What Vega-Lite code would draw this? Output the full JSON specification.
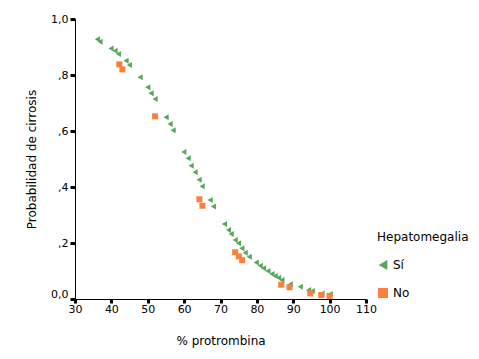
{
  "$schema": "https://vega.github.io/schema/vega-lite/v6.json",
  "width": 291,
  "height": 280,
  "autosize": {"type": "none"},
  "padding": {"left": 75, "top": 19, "right": 113, "bottom": 60},
  "background": "white",
  "config": {
    "view": {"stroke": null},
    "font": "DejaVu Sans"
  },
  "data": {
    "values": [
      {"protrombina": 36.14, "prob": 0.9275, "hepatomegalia": "Sí"},
      {"protrombina": 36.88, "prob": 0.919, "hepatomegalia": "Sí"},
      {"protrombina": 39.91, "prob": 0.895, "hepatomegalia": "Sí"},
      {"protrombina": 41.01, "prob": 0.887, "hepatomegalia": "Sí"},
      {"protrombina": 41.92, "prob": 0.875, "hepatomegalia": "Sí"},
      {"protrombina": 44.03, "prob": 0.851, "hepatomegalia": "Sí"},
      {"protrombina": 44.94, "prob": 0.836, "hepatomegalia": "Sí"},
      {"protrombina": 47.89, "prob": 0.792, "hepatomegalia": "Sí"},
      {"protrombina": 50.0, "prob": 0.756, "hepatomegalia": "Sí"},
      {"protrombina": 50.91, "prob": 0.735, "hepatomegalia": "Sí"},
      {"protrombina": 52.01, "prob": 0.714, "hepatomegalia": "Sí"},
      {"protrombina": 55.04, "prob": 0.649, "hepatomegalia": "Sí"},
      {"protrombina": 56.14, "prob": 0.625, "hepatomegalia": "Sí"},
      {"protrombina": 56.96, "prob": 0.6025, "hepatomegalia": "Sí"},
      {"protrombina": 59.91, "prob": 0.525, "hepatomegalia": "Sí"},
      {"protrombina": 61.1, "prob": 0.5025, "hepatomegalia": "Sí"},
      {"protrombina": 61.92, "prob": 0.476, "hepatomegalia": "Sí"},
      {"protrombina": 63.02, "prob": 0.4525, "hepatomegalia": "Sí"},
      {"protrombina": 64.12, "prob": 0.426, "hepatomegalia": "Sí"},
      {"protrombina": 64.95, "prob": 0.4025, "hepatomegalia": "Sí"},
      {"protrombina": 67.15, "prob": 0.354, "hepatomegalia": "Sí"},
      {"protrombina": 68.06, "prob": 0.33, "hepatomegalia": "Sí"},
      {"protrombina": 71.08, "prob": 0.268, "hepatomegalia": "Sí"},
      {"protrombina": 72.19, "prob": 0.246, "hepatomegalia": "Sí"},
      {"protrombina": 72.93, "prob": 0.232, "hepatomegalia": "Sí"},
      {"protrombina": 74.03, "prob": 0.211, "hepatomegalia": "Sí"},
      {"protrombina": 74.94, "prob": 0.199, "hepatomegalia": "Sí"},
      {"protrombina": 75.87, "prob": 0.181, "hepatomegalia": "Sí"},
      {"protrombina": 76.78, "prob": 0.165, "hepatomegalia": "Sí"},
      {"protrombina": 77.88, "prob": 0.151, "hepatomegalia": "Sí"},
      {"protrombina": 79.81, "prob": 0.13, "hepatomegalia": "Sí"},
      {"protrombina": 80.91, "prob": 0.119, "hepatomegalia": "Sí"},
      {"protrombina": 81.82, "prob": 0.11, "hepatomegalia": "Sí"},
      {"protrombina": 83.03, "prob": 0.1, "hepatomegalia": "Sí"},
      {"protrombina": 84.13, "prob": 0.089, "hepatomegalia": "Sí"},
      {"protrombina": 85.04, "prob": 0.082, "hepatomegalia": "Sí"},
      {"protrombina": 85.94, "prob": 0.076, "hepatomegalia": "Sí"},
      {"protrombina": 86.88, "prob": 0.068, "hepatomegalia": "Sí"},
      {"protrombina": 89.16, "prob": 0.0525, "hepatomegalia": "Sí"},
      {"protrombina": 91.92, "prob": 0.044, "hepatomegalia": "Sí"},
      {"protrombina": 94.2, "prob": 0.032, "hepatomegalia": "Sí"},
      {"protrombina": 95.22, "prob": 0.029, "hepatomegalia": "Sí"},
      {"protrombina": 97.89, "prob": 0.02, "hepatomegalia": "Sí"},
      {"protrombina": 100.17, "prob": 0.018, "hepatomegalia": "Sí"},
      {"protrombina": 42.19, "prob": 0.838, "hepatomegalia": "No"},
      {"protrombina": 43.02, "prob": 0.82, "hepatomegalia": "No"},
      {"protrombina": 52.01, "prob": 0.6525, "hepatomegalia": "No"},
      {"protrombina": 64.2, "prob": 0.356, "hepatomegalia": "No"},
      {"protrombina": 65.03, "prob": 0.333, "hepatomegalia": "No"},
      {"protrombina": 74.03, "prob": 0.167, "hepatomegalia": "No"},
      {"protrombina": 75.05, "prob": 0.1525, "hepatomegalia": "No"},
      {"protrombina": 75.95, "prob": 0.139, "hepatomegalia": "No"},
      {"protrombina": 86.69, "prob": 0.051, "hepatomegalia": "No"},
      {"protrombina": 88.97, "prob": 0.042, "hepatomegalia": "No"},
      {"protrombina": 94.67, "prob": 0.02, "hepatomegalia": "No"},
      {"protrombina": 97.69, "prob": 0.014, "hepatomegalia": "No"},
      {"protrombina": 99.98, "prob": 0.011, "hepatomegalia": "No"}
    ]
  },
  "mark": {"type": "point", "filled": true, "opacity": 1, "size": 36},
  "encoding": {
    "x": {
      "field": "protrombina",
      "type": "quantitative",
      "scale": {"domain": [30, 110], "nice": false, "zero": false},
      "axis": {
        "title": "% protrombina",
        "values": [30, 40, 50, 60, 70, 80, 90, 100, 110],
        "grid": false,
        "domainColor": "black",
        "domainWidth": 1,
        "tickColor": "black",
        "tickWidth": 3,
        "tickSize": 4,
        "labelColor": "black",
        "labelFontSize": 11,
        "labelPadding": 0,
        "labelFlush": false,
        "titleFontSize": 12,
        "titleFontWeight": "normal",
        "titleColor": "black",
        "titleBaseline": "middle",
        "titleY": 41
      }
    },
    "y": {
      "field": "prob",
      "type": "quantitative",
      "scale": {"domain": [0, 1], "nice": false},
      "axis": {
        "title": "Probabilidad de cirrosis",
        "values": [0, 0.2, 0.4, 0.6, 0.8, 1],
        "labelExpr": "datum.value == 0 ? '0,0' : datum.value == 1 ? '1,0' : replace(format(datum.value, '.1f'), '0.', ',')",
        "grid": false,
        "domainColor": "black",
        "domainWidth": 1,
        "tickColor": "black",
        "tickWidth": 3,
        "tickSize": 5,
        "labelColor": "black",
        "labelFontSize": 11,
        "labelPadding": 2,
        "labelFlush": false,
        "labelBaseline": {"expr": "datum.value == 0 ? 'bottom' : 'middle'"},
        "titleFontSize": 12,
        "titleFontWeight": "normal",
        "titleColor": "black",
        "titleAngle": -90,
        "titleAlign": "center",
        "titleBaseline": "middle",
        "titleX": -44,
        "titleY": 140
      }
    },
    "color": {
      "field": "hepatomegalia",
      "type": "nominal",
      "scale": {"domain": ["Sí", "No"], "range": ["#55a85a", "#fc7f3e"]},
      "legend": {
        "title": "Hepatomegalia",
        "orient": "none",
        "legendX": 302,
        "legendY": 213,
        "titleFontSize": 12,
        "titleFontWeight": "normal",
        "titleColor": "black",
        "titlePadding": 15,
        "labelFontSize": 12,
        "labelColor": "black",
        "rowPadding": 16,
        "symbolOffset": 0
      }
    },
    "shape": {
      "field": "hepatomegalia",
      "type": "nominal",
      "scale": {"domain": ["Sí", "No"], "range": ["triangle-left", "square"]}
    }
  }
}
